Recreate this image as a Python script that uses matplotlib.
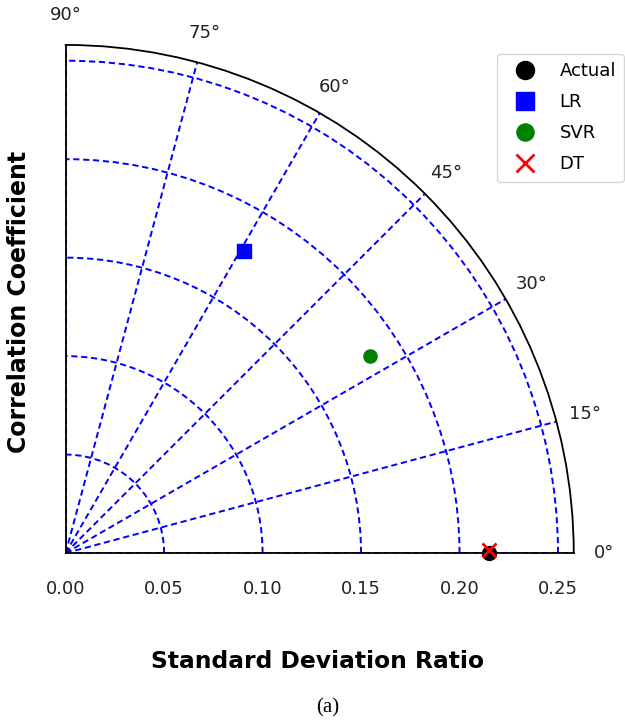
import numpy as np
import matplotlib
matplotlib.use('Agg')
import matplotlib.pyplot as plt

# Taylor-style diagram values (angle in degrees, standard deviation ratio)
models=['Actual','LR','SVR','DT']
angles_deg=[0.0,59.5,33.0,0.4]
std_ratio=[0.215,0.178,0.184,0.215]
markers=['o','s','o','x']
colors=['black','blue','green','red']
sizes=[10,10.5,9.5,10]

r_ticks=[0.00,0.05,0.10,0.15,0.20,0.25]
theta_ticks=[0,15,30,45,60,75,90]
r_max=0.258

fig=plt.figure(figsize=(6.25,7.24),dpi=100)
ax=fig.add_axes([0.105,0.236,0.813,0.702],projection='polar')
ax.set_thetamin(0)
ax.set_thetamax(90)
ax.set_rlim(0,r_max)
ax.set_thetagrids(theta_ticks,labels=[f'{t}°' for t in theta_ticks])
ax.set_rticks(r_ticks)
ax.set_yticklabels([f'{r:.2f}' for r in r_ticks])
ax.tick_params(axis='x',labelsize=13,pad=11,colors='#222222')
ax.tick_params(axis='y',labelsize=13,pad=16,colors='#222222')
ax.grid(True,color='blue',linestyle=(0,(3.2,1.9)),linewidth=1.4)
for s in ax.spines.values():
	s.set_color('black')
	s.set_linewidth(1.3)

for i,m in enumerate(models):
	ax.plot(np.deg2rad(angles_deg[i]),std_ratio[i],linestyle='none',marker=markers[i],
		color=colors[i],markersize=sizes[i],markeredgewidth=2 if markers[i]=='x' else 1,
		label=m,zorder=5+i,clip_on=False)

fig.legend(loc='upper right',bbox_to_anchor=(0.9985,0.925),borderaxespad=0,fontsize=13,markerscale=1.3,
	handletextpad=0.83,borderpad=0.45,labelspacing=0.72,handlelength=2.2)

fig.text(0.508,0.086,'Standard Deviation Ratio',ha='center',va='center',fontsize=16.8,fontweight='bold')
fig.text(0.03,0.583,'Correlation Coefficient',ha='center',va='center',rotation=90,fontsize=17,fontweight='bold')
fig.text(0.525,0.022,'(a)',ha='center',va='center',fontsize=15,family='Liberation Serif')

fig.savefig('out.png',dpi=100)
